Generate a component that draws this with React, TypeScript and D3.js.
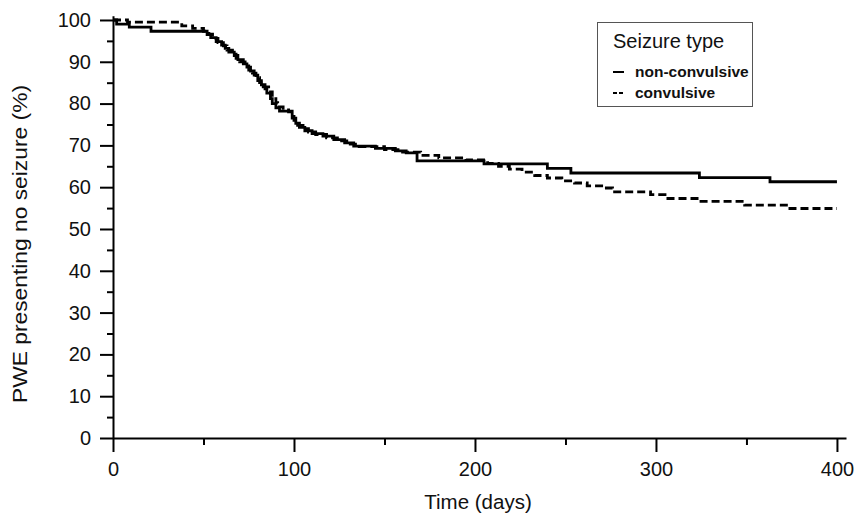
import React, { useEffect, useRef } from "react";
import * as d3 from "d3";

// Kaplan-Meier steps (days, % seizure free)
const nonConvDays = [0, 2, 9, 21, 52, 54, 57, 60, 62, 64, 67, 69, 72, 74, 76, 78, 80, 82, 84, 85, 87, 88, 90, 92, 99, 101, 103, 106, 110, 116, 122, 128, 133, 145, 156, 162, 168, 205, 240, 253, 324, 363];
const nonConvPct = [100, 99, 98.3, 97.3, 96.5, 95.8, 94.8, 94, 93.2, 92.3, 91.5, 90.5, 89.5, 88.7, 87.8, 86.8, 85.5, 84.5, 83.5, 82.5, 81.2, 80, 79, 78.2, 76.5, 75.3, 74.3, 73.5, 72.8, 72.2, 71.4, 70.6, 69.8, 69.3, 68.7, 68.2, 66.3, 65.6, 64.5, 63.4, 62.3, 61.3];

const convDays = [0, 8, 38, 44, 50, 53, 55, 58, 61, 63, 66, 68, 70, 73, 75, 77, 79, 81, 83, 86, 88, 90, 91, 94, 97, 100, 102, 105, 108, 112, 118, 124, 130, 136, 150, 160, 170, 180, 195, 207, 213, 219, 226, 233, 240, 248, 255, 262, 270, 276, 297, 305, 324, 349, 374];
const convPct = [100, 99.5, 98.6, 98, 97.3, 96.6, 95.6, 94.6, 93.8, 92.8, 91.8, 90.8, 90, 89, 88, 87.3, 86.2, 85, 84, 82.8, 81.2, 80.2, 79.2, 78.5, 78, 76, 74.8, 74, 73.2, 72.6, 71.8, 71.1, 70.3, 69.7, 69, 68.4, 67.6, 67, 66.5, 65.7, 65, 64.3, 63.6, 62.8, 62.2, 61.5, 61, 60.3, 59.8, 58.9, 58.2, 57.3, 56.6, 55.7, 54.9];

const lastDay = 400;
const xTicks = [0, 100, 200, 300, 400];
const xMinor = [50, 150, 250, 350];
const yTicks = [0, 10, 20, 30, 40, 50, 60, 70, 80, 90, 100];
const yMinor = [5, 15, 25, 35, 45, 55, 65, 75, 85, 95];
const legendTitle = "Seizure type";
const seriesNames = ["non-convulsive", "convulsive"];

const FONT = "'Liberation Sans', Arial, sans-serif";

export default function App() {
  const ref = useRef<SVGSVGElement>(null);

  useEffect(() => {
    document.body.style.margin = "0";
    const width = 858;
    const height = 516;

    const svg = d3.select(ref.current).attr("width", width).attr("height", height);
    svg.selectAll("*").remove();

    const x = d3.scaleLinear().domain([0, 405]).range([113, 846]);
    const y = d3.scaleLinear().domain([0, 101]).range([438, 15.8]);

    // axes
    const xAxis = svg.append("g").attr("transform", "translate(0,438)");
    xAxis.call(d3.axisBottom(x).tickValues(xTicks).tickSize(14).tickSizeOuter(0).tickPadding(10));
    const xMin = svg.append("g").attr("transform", "translate(0,438)");
    xMin.call(d3.axisBottom(x).tickValues(xMinor).tickSize(7).tickFormat(() => ""));
    xMin.select(".domain").remove();

    const yAxis = svg.append("g").attr("transform", "translate(113,0)");
    yAxis.call(d3.axisLeft(y).tickValues(yTicks).tickSize(13).tickSizeOuter(0).tickPadding(9));
    const yMin = svg.append("g").attr("transform", "translate(113,0)");
    yMin.call(d3.axisLeft(y).tickValues(yMinor).tickSize(6).tickFormat(() => ""));
    yMin.select(".domain").remove();

    svg.selectAll(".domain").attr("stroke", "#000").attr("stroke-width", 2);
    svg.selectAll(".tick line").attr("stroke", "#000").attr("stroke-width", 2);
    svg
      .selectAll(".tick text")
      .attr("font-family", FONT)
      .attr("font-size", 20)
      .attr("fill", "#111");

    // axis titles
    svg
      .append("text")
      .attr("x", 478)
      .attr("y", 509)
      .attr("text-anchor", "middle")
      .attr("font-family", FONT)
      .attr("font-size", 20.5)
      .attr("fill", "#111")
      .text("Time (days)");

    svg
      .append("text")
      .attr("transform", "translate(27,244) rotate(-90)")
      .attr("text-anchor", "middle")
      .attr("font-family", FONT)
      .attr("font-size", 20)
      .attr("textLength", 318)
      .attr("lengthAdjust", "spacingAndGlyphs")
      .attr("fill", "#111")
      .text("PWE presenting no seizure (%)");

    // curves
    const line = d3
      .line<[number, number]>()
      .x((d) => x(d[0]))
      .y((d) => y(d[1]))
      .curve(d3.curveStepAfter);

    const build = (days: number[], pct: number[]) => {
      const pts: [number, number][] = days.map((d, i) => [d, pct[i]]);
      pts.push([lastDay, pct[pct.length - 1]]);
      return pts;
    };

    svg
      .append("path")
      .attr("d", line(build(convDays, convPct)))
      .attr("fill", "none")
      .attr("stroke", "#000")
      .attr("stroke-width", 2.8)
      .attr("stroke-dasharray", "8,4");

    svg
      .append("path")
      .attr("d", line(build(nonConvDays, nonConvPct)))
      .attr("fill", "none")
      .attr("stroke", "#000")
      .attr("stroke-width", 2.8);

    // legend
    const lg = svg.append("g");
    lg.append("rect")
      .attr("x", 597.5)
      .attr("y", 22.5)
      .attr("width", 155)
      .attr("height", 84)
      .attr("fill", "#fff")
      .attr("stroke", "#555")
      .attr("stroke-width", 1);
    lg.append("text")
      .attr("x", 613)
      .attr("y", 48)
      .attr("font-family", FONT)
      .attr("font-size", 20)
      .attr("fill", "#111")
      .text(legendTitle);
    seriesNames.forEach((name, i) => {
      const yy = 72 + i * 21;
      lg.append("line")
        .attr("x1", 613)
        .attr("x2", 624)
        .attr("y1", yy)
        .attr("y2", yy)
        .attr("stroke", "#000")
        .attr("stroke-width", 2)
        .attr("stroke-dasharray", i === 0 ? null : "4,2");
      lg.append("text")
        .attr("x", 635)
        .attr("y", yy + 5)
        .attr("font-family", FONT)
        .attr("font-size", 15.5)
        .attr("font-weight", "bold")
        .attr("fill", "#111")
        .text(name);
    });
  }, []);

  return <svg ref={ref} style={{ display: "block" }}></svg>;
}
